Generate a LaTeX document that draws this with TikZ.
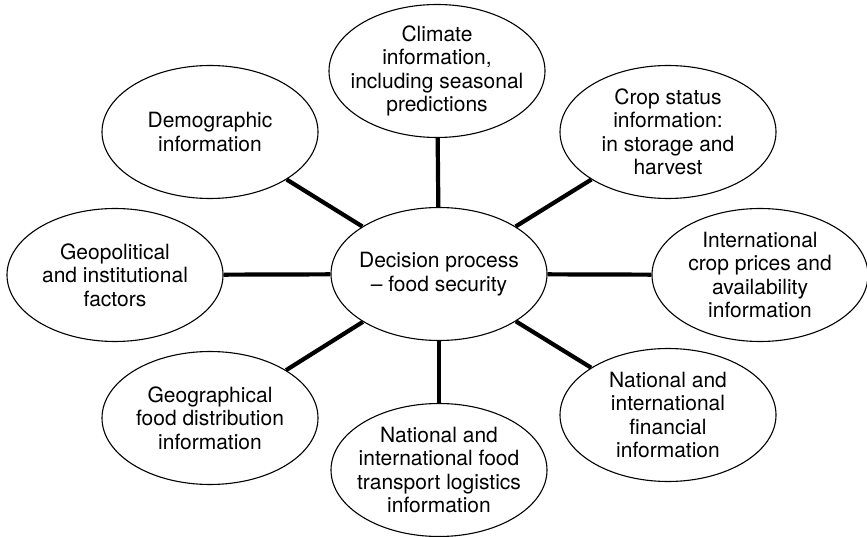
\documentclass[tikz,border=0pt]{standalone}
\usepackage{fontspec}
\setmainfont{TeX Gyre Heros}
\usetikzlibrary{shapes.geometric}

\tikzset{
  blob/.style={ellipse, draw=black, line width=1.1bp, fill=white,
    minimum width=216bp, minimum height=133bp, inner sep=0pt},
  label/.style={align=center, inner sep=0pt,
    font=\fontsize{21bp}{23.5bp}\selectfont},
  link/.style={line width=4.2bp, black}
}

\begin{document}
\begin{tikzpicture}[x=1bp, y=-1bp]
  \useasboundingbox (0,0) rectangle (867,537);

  % ellipses
  \node[blob] (ctr)  at (439,274) {};
  \node[blob] (clim) at (437,71)  {};
  \node[blob] (dem)  at (210,132) {};
  \node[blob] (crop) at (668,132) {};
  \node[blob] (geo)  at (115,275) {};
  \node[blob] (intl) at (760,275) {};
  \node[blob] (dist) at (210,418) {};
  \node[blob] (trans) at (439,470) {};
  \node[blob] (fin)  at (668,415) {};

  % spokes from the centre
  \foreach \n in {clim,dem,crop,geo,intl,dist,trans,fin}
    \draw[link] (ctr) -- (\n);

  % texts
  \node[label] (tctr)  at (ctr)  {Decision process\\– food security};
  \node[label] (tclim) at (clim) {Climate\\information,\\including seasonal\\predictions};
  \node[label] (tdem)  at (dem)  {Demographic\\information};
  \node[label] (tcrop) at (crop) {Crop status\\information:\\in storage and\\harvest};
  \node[label] (tgeo)  at (geo)  {Geopolitical\\and institutional\\factors};
  \node[label] (tintl) at (intl) {International\\crop prices and\\availability\\information};
  \node[label] (tdist) at (dist) {Geographical\\food distribution\\information};
  \node[label] (ttrans) at (trans) {National and\\international food\\transport logistics\\information};
  \node[label] (tfin)  at (fin)  {National and\\international\\financial\\information};
\end{tikzpicture}
\end{document}
